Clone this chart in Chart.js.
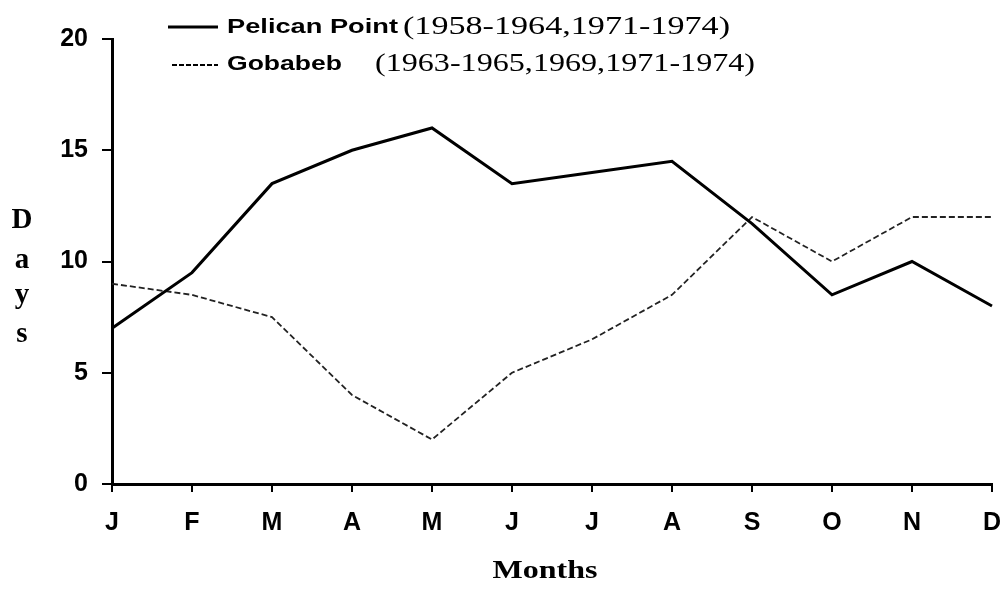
<!DOCTYPE html>
<html>
<head>
<meta charset="utf-8">
<script src="https://cdn.jsdelivr.net/npm/chart.js@4/dist/chart.umd.min.js"></script>
<style>
    body { margin: 0; background: #fff; }
    #wrap { width: 1003px; height: 592px; }
</style>
</head>
<body>
<div id="wrap"><canvas id="chart"></canvas></div>
<script>
const months = ["J", "F", "M", "A", "M", "J", "J", "A", "S", "O", "N", "D"];
const pelicanPoint = [7, 9.5, 13.5, 15, 16, 13.5, 14, 14.5, 11.7, 8.5, 10, 8];
const gobabeb = [9, 8.5, 7.5, 4, 2, 5, 6.5, 8.5, 12, 10, 12, 12];
const yTicks = [0, 5, 10, 15, 20];

// legend rows: [name, years]
const legendRows = [
    ["Pelican Point", "(1958-1964,1971-1974)"],
    ["Gobabeb", "(1963-1965,1969,1971-1974)"]
];

// draws text squeezed or stretched to a given width (the scan is wider than the fonts)
function stretchText(ctx, text, x, y, width, font, align) {
    ctx.save();
    ctx.font = font;
    const natural = ctx.measureText(text).width;
    const sx = width / natural;
    let left = x;
    if (align === "center") left = x - width / 2;
    ctx.translate(left, y);
    ctx.scale(sx, 1);
    ctx.textAlign = "left";
    ctx.textBaseline = "alphabetic";
    ctx.fillStyle = "#000";
    ctx.fillText(text, 0, 0);
    ctx.restore();
}

const labelsPlugin = {
    id: "labels",
    afterDraw(chart) {
        const ctx = chart.ctx;

        // legend
        ctx.save();
        ctx.strokeStyle = "#000";
        ctx.lineWidth = 3;
        ctx.beginPath();
        ctx.moveTo(168, 27);
        ctx.lineTo(218, 27);
        ctx.stroke();
        ctx.lineWidth = 1.8;
        ctx.setLineDash([5, 2]);
        ctx.beginPath();
        ctx.moveTo(172, 65);
        ctx.lineTo(218, 65);
        ctx.stroke();
        ctx.restore();

        stretchText(ctx, legendRows[0][0], 227, 33, 171, "bold 21px 'Liberation Sans', Arial, sans-serif");
        stretchText(ctx, legendRows[0][1], 403, 34, 327, "25px 'Liberation Serif', 'Times New Roman', serif");
        stretchText(ctx, legendRows[1][0], 227, 70, 115, "bold 21px 'Liberation Sans', Arial, sans-serif");
        stretchText(ctx, legendRows[1][1], 375, 71, 380, "25px 'Liberation Serif', 'Times New Roman', serif");

        // y title, one letter per line
        ctx.save();
        ctx.font = "bold 29px 'Liberation Serif', 'Times New Roman', serif";
        ctx.fillStyle = "#000";
        ctx.textAlign = "center";
        ctx.textBaseline = "alphabetic";
        const letters = ["D", "a", "y", "s"];
        const baselines = [228, 268, 303, 342];
        letters.forEach((l, i) => ctx.fillText(l, 22, baselines[i]));
        ctx.restore();

        // x title
        stretchText(ctx, "Months", 545, 578, 105, "bold 26px 'Liberation Serif', 'Times New Roman', serif", "center");
    }
};

new Chart("chart", {
    type: "line",
    data: {
        labels: months,
        datasets: [{
            label: legendRows[0][0],
            data: pelicanPoint,
            borderColor: "#000",
            borderWidth: 3,
            pointRadius: 0,
            tension: 0,
            fill: false
        }, {
            label: legendRows[1][0],
            data: gobabeb,
            borderColor: "#222",
            borderWidth: 1.8,
            borderDash: [6, 3],
            pointRadius: 0,
            tension: 0,
            fill: false
        }]
    },
    options: {
        responsive: true,
        maintainAspectRatio: false,
        animation: false,
        layout: {padding: {left: 0, top: 39, right: 11, bottom: 0}},
        plugins: {
            legend: {display: false},
            tooltip: {enabled: false}
        },
        scales: {
            x: {
                offset: false,
                afterFit(scale) {
                    scale.height = 108;
                    scale.paddingLeft = 0;
                    scale.paddingRight = 0;
                },
                grid: {
                    display: true,
                    drawOnChartArea: false,
                    drawTicks: true,
                    tickLength: 8,
                    color: "#000",
                    lineWidth: 2
                },
                border: {display: true, color: "#000", width: 3},
                ticks: {
                    color: "#000",
                    padding: 16,
                    maxRotation: 0,
                    autoSkip: false,
                    font: {family: "'Liberation Sans', Arial, sans-serif", size: 25, weight: "bold"}
                }
            },
            y: {
                min: 0,
                max: 20,
                afterFit(scale) {
                    scale.width = 112;
                    scale.paddingTop = 0;
                    scale.paddingBottom = 0;
                },
                afterBuildTicks(scale) { scale.ticks = yTicks.map(v => ({value: v})); },
                grid: {
                    display: true,
                    drawOnChartArea: false,
                    drawTicks: true,
                    tickLength: 10,
                    color: "#000",
                    lineWidth: 2
                },
                border: {display: true, color: "#000", width: 3},
                ticks: {
                    color: "#000",
                    padding: 14,
                    font: {family: "'Liberation Sans', Arial, sans-serif", size: 25, weight: "bold"}
                }
            }
        }
    },
    plugins: [labelsPlugin]
});
</script>
</body>
</html>
